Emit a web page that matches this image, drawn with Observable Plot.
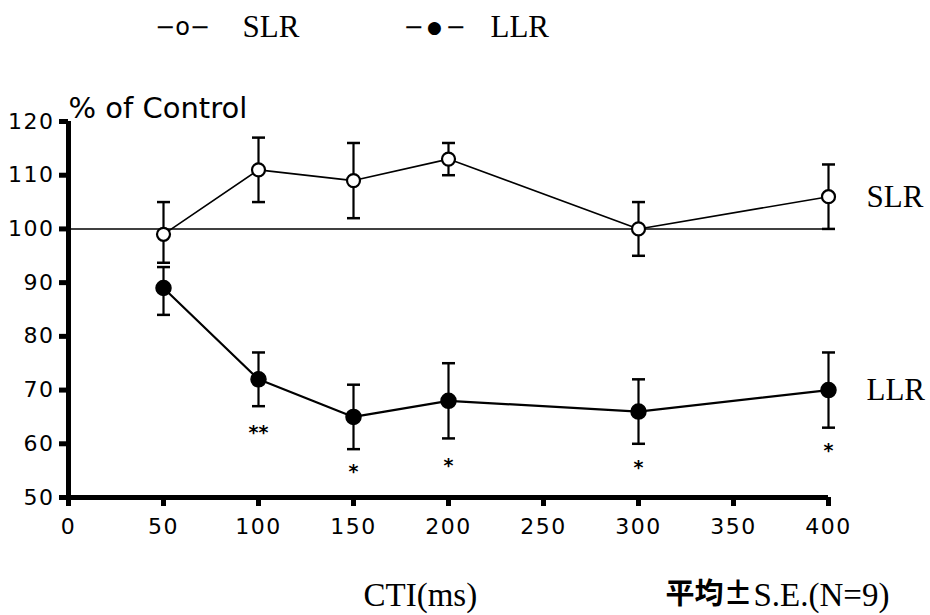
<!DOCTYPE html>
<html><head><meta charset="utf-8">
<script src="https://cdn.jsdelivr.net/npm/d3@7"></script>
<script src="https://cdn.jsdelivr.net/npm/@observablehq/plot@0.6"></script>
<style>
body{margin:0;background:#fff}
g[aria-label="y-axis tick label"] text, g[aria-label="x-axis tick label"] text {letter-spacing:1.5px}
</style>
</head><body><div id="chart"></div>
<script>
// ---- data ----
const cti = [50, 100, 150, 200, 300, 400];
const slrMean = [99, 111, 109, 113, 100, 106];
const slrLow  = [93.7, 105, 102, 110, 95, 100];
const slrHigh = [105, 117, 116, 116, 105, 112];
const llrMean = [89, 72, 65, 68, 66, 70];
const llrLow  = [84, 67, 59, 61, 60, 63];
const llrHigh = [92.9, 77, 71, 75, 72, 77];
const sigText = ["", "**", "*", "*", "*", "*"];
const sigY    = [null, 62.8, 55.6, 56.7, 56.3, 59.5];
const xTicks = [0, 50, 100, 150, 200, 250, 300, 350, 400];
const yTicks = [50, 60, 70, 80, 90, 100, 110, 120];
const seriesNames = ["SLR", "LLR"];
const yLabel = "% of Control";
const xLabel = "CTI(ms)";
const notePrefix = "平均±";
const noteSuffix = "S.E.(N=9)";

const slr = cti.map((x, i) => ({x, y: slrMean[i], lo: slrLow[i], hi: slrHigh[i]}));
const llr = cti.map((x, i) => ({x, y: llrMean[i], lo: llrLow[i], hi: llrHigh[i]}));
const sig = cti.map((x, i) => ({x, y: sigY[i], t: sigText[i]})).filter(d => d.t);

const cap = {draw(ctx, size) { const r = Math.sqrt(size / Math.PI); ctx.moveTo(-r, 0); ctx.lineTo(r, 0); }};
const sans = "DejaVu Sans";
const serif = "Liberation Serif";
const cjk = "Noto Sans CJK JP";

function errorMarks(data) {
  return [
    Plot.ruleX(data, {x: "x", y1: "lo", y2: "hi", strokeWidth: 2.2}),
    Plot.dot(data, {x: "x", y: "lo", symbol: cap, r: 6.5, stroke: "black", fill: "none", strokeWidth: 2.5}),
    Plot.dot(data, {x: "x", y: "hi", symbol: cap, r: 6.5, stroke: "black", fill: "none", strokeWidth: 2.5})
  ];
}

const legendY = -94;
const chart = Plot.plot({
  width: 930, height: 615,
  marginLeft: 68, marginRight: 102, marginTop: 121, marginBottom: 118,
  style: {fontFamily: sans, fontSize: "22px", color: "black", background: "white"},
  x: {domain: [0, 400]},
  y: {domain: [50, 120]},
  marks: [
    Plot.ruleY([100], {strokeWidth: 1.6}),
    ...errorMarks(slr),
    ...errorMarks(llr),
    Plot.line(slr, {x: "x", y: "y", strokeWidth: 1.6}),
    Plot.line(llr, {x: "x", y: "y", strokeWidth: 2.2}),
    Plot.dot(slr, {x: "x", y: "y", r: 6.5, fill: "white", stroke: "black", strokeWidth: 2.2}),
    Plot.dot(llr, {x: "x", y: "y", r: 7.5, fill: "black", stroke: "black"}),
    Plot.text(sig, {x: "x", y: "y", text: "t", fontSize: 19, fontWeight: "bold", fontFamily: sans, lineAnchor: "middle", dy: 4}),
    // axes
    Plot.ruleX([0], {strokeWidth: 5}),
    Plot.ruleY([50], {strokeWidth: 5}),
    Plot.axisY({ticks: yTicks, tickSize: 9, tickPadding: 5, strokeWidth: 5, fontSize: 22, label: null}),
    Plot.axisX({ticks: xTicks, tickSize: 9, tickPadding: 12, strokeWidth: 5, fontSize: 22, label: null}),
    // axis titles
    Plot.text([yLabel], {frameAnchor: "top-left", textAnchor: "start", lineAnchor: "bottom", dx: 0, dy: -4, fontSize: 29, fontFamily: sans, wordSpacing: 14}),
    Plot.text([xLabel], {frameAnchor: "bottom-left", textAnchor: "start", lineAnchor: "middle", dx: 295, dy: 98, fontSize: 33, fontFamily: serif}),
    Plot.text([notePrefix], {frameAnchor: "bottom-left", textAnchor: "start", lineAnchor: "middle", dx: 597, dy: 97, fontSize: 29, fontFamily: cjk, fontWeight: "bold"}),
    Plot.text([noteSuffix], {frameAnchor: "bottom-left", textAnchor: "start", lineAnchor: "middle", dx: 685, dy: 98, fontSize: 33, fontFamily: serif}),
    // series labels at right
    Plot.text([slr[slr.length - 1]], {x: "x", y: "y", text: () => seriesNames[0], textAnchor: "start", dx: 38, fontSize: 31, fontFamily: serif}),
    Plot.text([llr[llr.length - 1]], {x: "x", y: "y", text: () => seriesNames[1], textAnchor: "start", dx: 38, fontSize: 31, fontFamily: serif}),
    // legend
    Plot.text(["−o−"], {frameAnchor: "top-left", textAnchor: "middle", lineAnchor: "middle", dx: 114, dy: legendY, fontSize: 24, fontFamily: sans}),
    Plot.text([seriesNames[0]], {frameAnchor: "top-left", textAnchor: "start", lineAnchor: "middle", dx: 174, dy: legendY, fontSize: 31, fontFamily: serif}),
    Plot.text(["−"], {frameAnchor: "top-left", textAnchor: "middle", lineAnchor: "middle", dx: 345, dy: legendY, fontSize: 24, fontFamily: sans}),
    Plot.text(["●"], {frameAnchor: "top-left", textAnchor: "middle", lineAnchor: "middle", dx: 366, dy: legendY, fontSize: 17, fontFamily: sans}),
    Plot.text(["−"], {frameAnchor: "top-left", textAnchor: "middle", lineAnchor: "middle", dx: 387, dy: legendY, fontSize: 24, fontFamily: sans}),
    Plot.text([seriesNames[1]], {frameAnchor: "top-left", textAnchor: "start", lineAnchor: "middle", dx: 422, dy: legendY, fontSize: 31, fontFamily: serif})
  ]
});
document.getElementById("chart").append(chart);
</script>
</body></html>
